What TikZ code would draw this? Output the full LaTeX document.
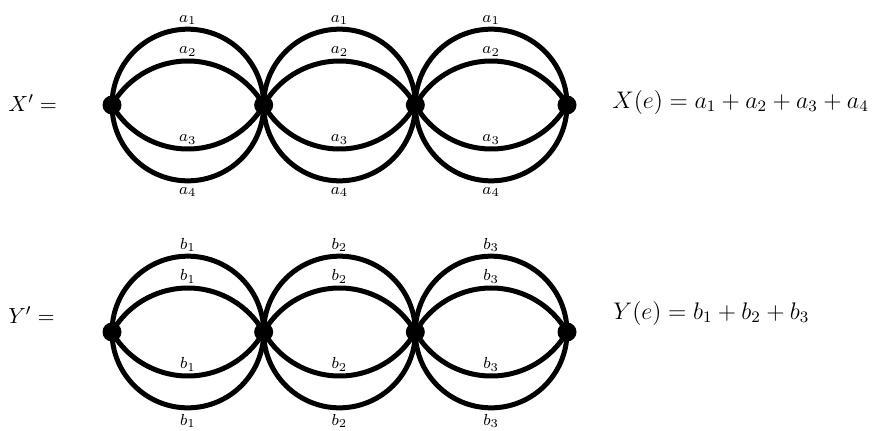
\documentclass[tikz,border=0pt]{standalone}
\usetikzlibrary{calc}
\begin{document}
\begin{tikzpicture}[x=0.5pt,y=0.5pt,
  vtx/.style={circle,fill=black,inner sep=0pt,minimum size=9.5pt},
  edg/.style={line width=2.5pt},
  lab/.style={font=\fontsize{8.5}{10}\selectfont,inner sep=1pt},
  labu/.style={lab,anchor=south,yshift=1.2pt},
  labd/.style={lab,anchor=north,yshift=-2.2pt},
  eq/.style={font=\fontsize{11}{13}\selectfont,anchor=west,inner sep=0pt},
  eqr/.style={font=\fontsize{11.7}{14}\selectfont,anchor=west,inner sep=0pt}]
\useasboundingbox (0,0) rectangle (873,430);
\def\Ro{75.83}
\def\Ri{87.34}
\foreach \i in {1,...,4}{
  \coordinate (v\i) at ({112+151.67*(\i-1)},325);
  \coordinate (w\i) at ({112+151.67*(\i-1)},98);
}
% top row
\foreach \a/\b in {1/2,2/3,3/4}{
  \draw[edg] (v\a) arc[start angle=180,end angle=0,radius=\Ro];
  \draw[edg] (v\a) arc[start angle=150.25,end angle=29.75,radius=\Ri];
  \draw[edg] (v\a) arc[start angle=209.75,end angle=330.25,radius=\Ri];
  \draw[edg] (v\a) arc[start angle=180,end angle=360,radius=\Ro];
  \node[labu] (la1\a) at ($(v\a)!0.5!(v\b)+(0,\Ro)$) {$a_1$};
  \node[labu] (la2\a) at ($(v\a)!0.5!(v\b)+(0,44)$) {$a_2$};
  \node[labu] (la3\a) at ($(v\a)!0.5!(v\b)+(0,-44)$) {$a_3$};
  \node[labd] (la4\a) at ($(v\a)!0.5!(v\b)+(0,-\Ro)$) {$a_4$};
}
% bottom row
\foreach \a/\b in {1/2,2/3,3/4}{
  \draw[edg] (w\a) arc[start angle=180,end angle=0,radius=\Ro];
  \draw[edg] (w\a) arc[start angle=150.25,end angle=29.75,radius=\Ri];
  \draw[edg] (w\a) arc[start angle=209.75,end angle=330.25,radius=\Ri];
  \draw[edg] (w\a) arc[start angle=180,end angle=360,radius=\Ro];
  \node[labu] (lb1\a) at ($(w\a)!0.5!(w\b)+(0,\Ro)$) {$b_\a$};
  \node[labu] (lb2\a) at ($(w\a)!0.5!(w\b)+(0,44)$) {$b_\a$};
  \node[labu] (lb3\a) at ($(w\a)!0.5!(w\b)+(0,-44)$) {$b_\a$};
  \node[labd] (lb4\a) at ($(w\a)!0.5!(w\b)+(0,-\Ro)$) {$b_\a$};
}
\foreach \i in {1,...,4}{
  \node[vtx] (dv\i) at (v\i) {};
  \node[vtx] (dw\i) at (w\i) {};
}
\node[eq] (xl) at (8,327) {$X' =$};
\node[eqr] (xr) at (612,328) {$X(e) = a_1 + a_2 + a_3 + a_4$};
\node[eq] (yl) at (8,115) {$Y' =$};
\node[eqr] (yr) at (613,117) {$Y(e) = b_1 + b_2 + b_3$};
\end{tikzpicture}
\end{document}
